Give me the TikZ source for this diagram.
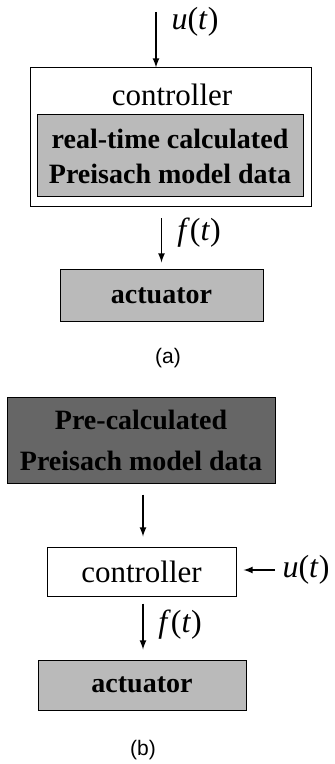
\documentclass[tikz,border=0pt]{standalone}
\usepackage{fontspec}
\setmainfont{Liberation Serif}
\newfontfamily\capfont{Liberation Sans}
\usepackage{tikz}

% signal names set in the text serif
\newcommand{\sgn}[1]{\textit{#1}(\textit{t})}

\tikzset{
  blk/.style={draw, line width=0.5pt, inner sep=0pt, font=\fontsize{15.5}{17.5}\selectfont},
  litebox/.style={blk, fill=black!27, align=center, font=\bfseries\fontsize{14}{17.5}\selectfont},
  darkbox/.style={blk, fill=black!60, align=center, font=\bfseries\fontsize{14}{20.5}\selectfont},
  sig/.style={-latex, line width=0.6pt},
  siglabel/.style={font=\fontsize{16}{18}\selectfont},
  captext/.style={font=\capfont\fontsize{10.5}{12}\selectfont}
}

\begin{document}
\begin{tikzpicture}[x=0.5pt,y=-0.5pt]
\useasboundingbox (0,0) rectangle (334,764);

% (a) model data computed inside the controller
\node[blk, minimum width=140.5pt, minimum height=69.5pt] (ctrlA) at (170.5,137.5) {};
\node[blk, draw=none] (ctrlAtxt) at (172,95) {controller};
\node[litebox, minimum width=133pt, minimum height=41pt] (dataA) at (170,156)
  {real-time calculated\\Preisach model data};
\node[litebox, minimum width=101.5pt, minimum height=25.5pt] (actA) at (161.5,295.5) {actuator};

\coordinate (uinA) at (156,12);
\draw[sig] (uinA) -- (uinA |- ctrlA.north);
\node[siglabel] (uA) at (195,22) {\sgn{u}};

\draw[sig] ([yshift=-5.5pt]ctrlA.south -| actA.north) -- ([yshift=3.5pt]actA.north);
\node[siglabel] (fA) at (199,233) {\sgn{f}};

\node[captext] (capA) at (168,358) {(a)};

% (b) model data prepared beforehand
\node[darkbox, minimum width=134pt, minimum height=43pt] (dataB) at (141,440)
  {Pre-calculated\\Preisach model data};
\node[blk, minimum width=94.5pt, minimum height=24.5pt] (ctrlB) at (141.5,571.5) {controller};
\node[litebox, minimum width=104pt, minimum height=25pt] (actB) at (142,685) {actuator};

\draw[sig] ([yshift=-5.5pt]dataB.south -| 143,0) -- ([yshift=5pt]ctrlB.north -| 143,0);

\coordinate (uinB) at (275,570);
\draw[sig] (uinB) -- ([xshift=3.5pt]ctrlB.east |- uinB);
\node[siglabel] (uB) at (306,570) {\sgn{u}};

\draw[sig] ([yshift=-3.5pt]ctrlB.south -| 143,0) -- ([yshift=5pt]actB.north -| 143,0);
\node[siglabel] (fB) at (180,625) {\sgn{f}};

\node[captext] (capB) at (143,750) {(b)};
\end{tikzpicture}
\end{document}
